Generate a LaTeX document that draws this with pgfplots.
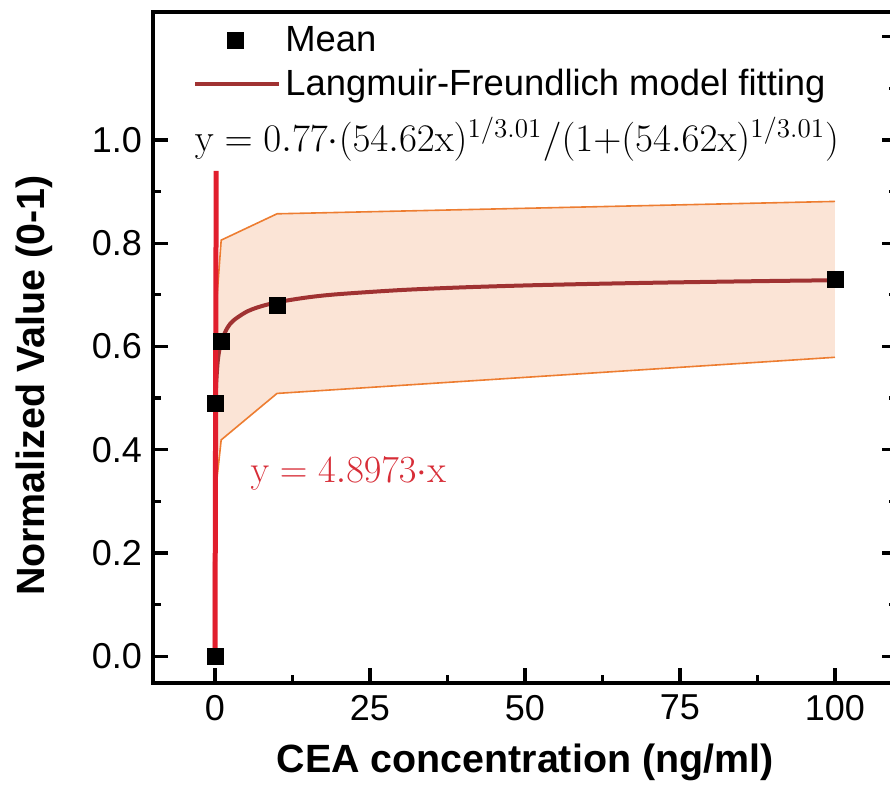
\documentclass[border=0pt]{standalone}
\usepackage[no-math]{fontspec}
\setmainfont{Liberation Sans}
\usepackage{graphicx}
\usepackage{pgfplots}
\pgfplotsset{compat=1.18}
\definecolor{bandfill}{RGB}{251,228,214}
\definecolor{bandedge}{RGB}{237,125,49}
\definecolor{lfred}{RGB}{160,50,50}
\definecolor{linred}{RGB}{225,30,45}
\definecolor{txtred}{RGB}{215,45,55}
\pgfplotsset{
  meanimg/.style={legend image code/.code={\path (0pt,0pt) (42pt,0pt); \draw[##1] plot coordinates {(20pt,0pt)};}},
  lineimg/.style={legend image code/.code={\draw[##1] (0pt,0pt) -- (42pt,0pt);}},
}
\begin{document}
\begin{tikzpicture}
\begin{axis}[
  scale only axis, width=372pt, height=335.5pt,
  xmin=-10, xmax=110, ymin=-0.052, ymax=1.248,
  axis line style={line width=1.6pt},
  xtick={0,25,50,75,100}, minor x tick num=1,
  ytick={0,0.2,0.4,0.6,0.8,1.0}, minor ytick={0.1,0.3,0.5,0.7,0.9},
  xtick pos=left, ytick pos=left,
  tick align=inside,
  major tick length=7.5pt, minor tick length=4pt,
  every tick/.style={line width=1.6pt, black},
  /pgf/number format/assume math mode=true,
  yticklabel style={/pgf/number format/fixed, /pgf/number format/fixed zerofill, /pgf/number format/precision=1, xshift=-2pt},
  xticklabel style={yshift=-2.5pt},
  tick label style={font=\fontsize{18}{20}\selectfont},
  legend style={at={(rel axis cs:0,1)}, anchor=north west, xshift=20pt, yshift=-5.5pt,
    draw=none, fill=none, inner sep=0pt, row sep=5pt, column sep=2pt,
    font=\fontsize{18.2}{21}\selectfont,
    nodes={inner sep=0pt, text height=14pt, text depth=3pt},
    cells={anchor=west}},
  legend cell align=left,
  clip=false,
]
\coordinate (bl) at (rel axis cs:0,0);
\coordinate (tr) at (rel axis cs:1,1);
\addlegendimage{meanimg, only marks, mark=square*, mark size=4pt, black}
\addlegendentry{Mean}
\addlegendimage{lineimg, line width=2pt, color=lfred}
\addlegendentry{Langmuir-Freundlich model fitting}
% confidence band
\addplot[fill=bandfill, draw=none, forget plot] coordinates {
  (0,0) (0.1,0.66) (1,0.806) (10,0.857) (100,0.881)
  (100,0.579) (10,0.509) (1,0.419) (0.1,0.32) (0,0)} -- cycle;
\addplot[bandedge, line width=0.8pt, forget plot] coordinates {
  (0,0) (0.1,0.66) (1,0.806) (10,0.857) (100,0.881)};
\addplot[bandedge, line width=0.8pt, forget plot] coordinates {
  (0,0) (0.1,0.32) (1,0.419) (10,0.509) (100,0.579)};
% Langmuir-Freundlich fit
\addplot[lfred, line width=2pt, smooth, forget plot] coordinates {
  (0,0) (0.001,0.2123) (0.01,0.3465) (0.05,0.4487) (0.1,0.4908) (0.2,0.5304)
  (0.5,0.5775) (1,0.6088) (2,0.6362) (3,0.6505) (5,0.6666) (7,0.6762)
  (10,0.6856) (15,0.6952) (20,0.7014) (30,0.7093) (40,0.7145) (50,0.7182)
  (60,0.7210) (70,0.7233) (80,0.7252) (90,0.7269) (100,0.7283)};
% means
\addplot[only marks, mark=square*, mark size=4pt, black, forget plot] coordinates {
  (0,0) (0.1,0.49) (1,0.61) (10,0.68) (100,0.729)};
% linear fit
\addplot[linred, line width=2.5pt, forget plot] coordinates {(0,0) (0.192,0.94)};
\node[anchor=base, font=\fontsize{17.28}{21}\selectfont] at (axis cs:48.7,0.977)
  {\scalebox{1.13}{$\mathrm{y}=0.77{\cdot}(54.62\mathrm{x})^{1/3.01}/(1{+}(54.62\mathrm{x})^{1/3.01})$}};
\node[anchor=base, text=txtred, font=\fontsize{17.28}{21}\selectfont] at (axis cs:21.5,0.337)
  {\scalebox{1.11}{$\mathrm{y}=4.8973{\cdot}\mathrm{x}$}};
\node[anchor=base, font=\bfseries\fontsize{19.7}{23}\selectfont] at ([yshift=-45pt]rel axis cs:0.5,0)
  {CEA concentration (ng/ml)};
\node[anchor=base, rotate=90, font=\bfseries\fontsize{19.7}{23}\selectfont] at ([xshift=-54pt]rel axis cs:0,0.443)
  {Normalized Value (0-1)};
\end{axis}
\begin{axis}[
  scale only axis, width=372pt, height=335.5pt,
  xmin=-10, xmax=110, ymin=-0.052, ymax=1.248,
  axis line style={draw=none},
  xtick=\empty,
  ytick={0,0.2,0.4,0.6,0.8,1.0,1.2}, minor ytick={0.1,0.3,0.5,0.7,0.9,1.1},
  ytick pos=right, yticklabels={},
  tick align=inside,
  major tick length=7.5pt, minor tick length=4pt,
  every tick/.style={line width=1.6pt, black},
]
\addplot[draw=none] coordinates {(0,0)};
\end{axis}
\pgfresetboundingbox
\path ([shift={(-76.5pt,-54pt)}]bl) rectangle ([shift={(-3.5pt,6pt)}]tr);
\end{tikzpicture}
\end{document}
